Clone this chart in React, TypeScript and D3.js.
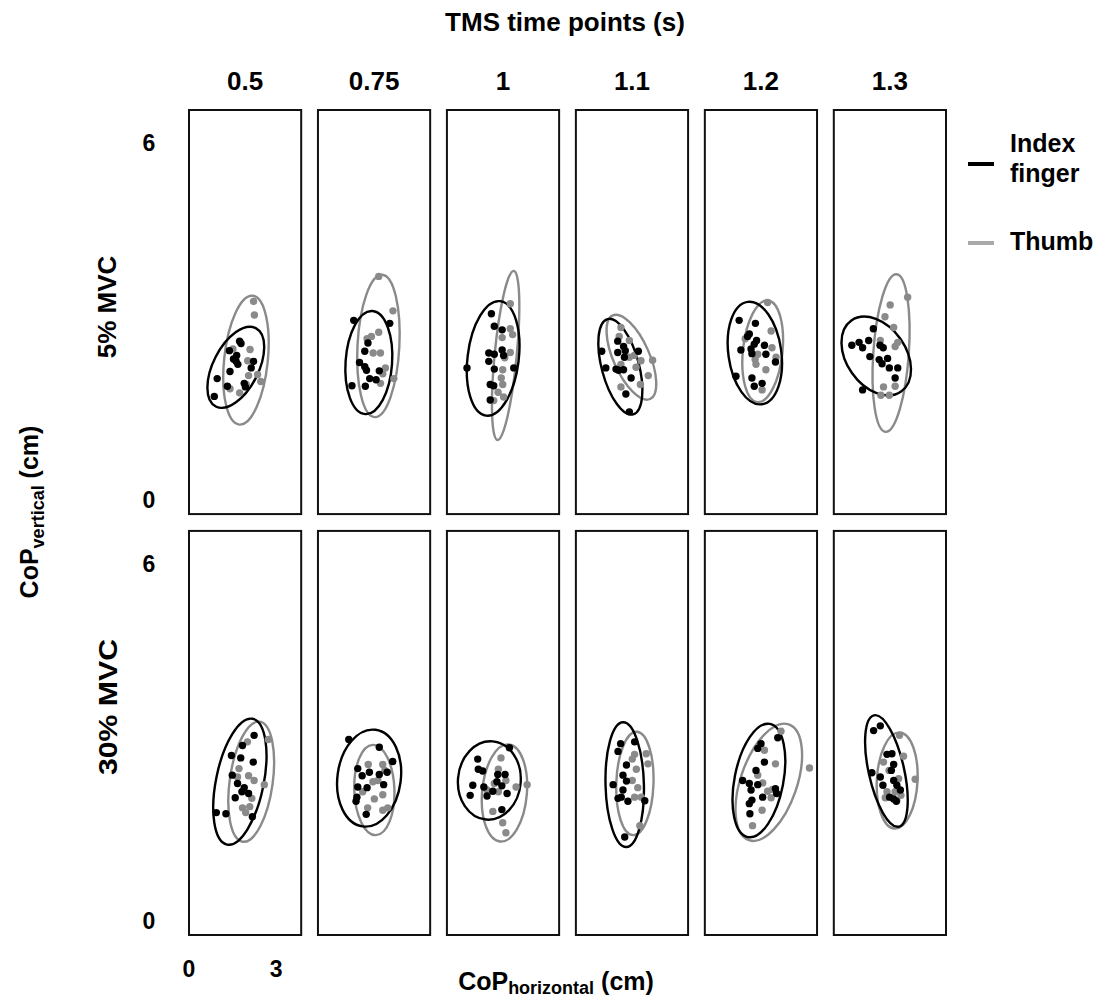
import React from "react";
import * as d3 from "d3";

type Pt = [number, number];
// [cx, cy, rx (x-units), ry (y-units), tilt deg]
type Ell = [number, number, number, number, number];

const timePoints = ["0.5", "0.75", "1", "1.1", "1.2", "1.3"];
const forceLevels = ["5% MVC", "30% MVC"];
const xTicks = [0, 3];
const yTicks = [0, 6];

// ---- 5% MVC : index finger (black) ----
const index5: Pt[][] = [
  [[0.87,1.74],[0.97,2.04],[1.32,1.91],[1.39,2.51],[1.41,2.16],[1.53,2.37],[1.62,2.33],[1.64,2.43],[1.68,2.28],[1.74,2.67],[1.79,2.63],[1.90,1.96],[1.94,1.90],[2.14,2.22],[2.22,2.33]],
  [[1.23,3.02],[2.47,2.97],[1.72,2.64],[1.61,2.50],[1.43,2.31],[1.61,2.24],[1.67,2.18],[1.78,2.04],[2.00,2.02],[2.11,2.17],[1.17,1.92],[1.63,1.91]],
  [[1.53,3.13],[1.63,2.92],[1.90,2.86],[1.44,2.47],[1.63,2.45],[1.90,2.52],[1.95,2.43],[1.44,2.33],[1.63,2.20],[0.69,2.22],[2.30,2.22],[1.49,1.94],[1.61,1.92],[1.49,1.68]],
  [[0.89,2.50],[1.44,2.67],[1.64,2.58],[1.70,2.51],[1.44,2.48],[1.67,2.40],[2.15,2.50],[1.03,2.22],[1.38,2.20],[1.47,2.18],[1.64,2.19],[1.90,2.05],[1.72,1.78],[1.84,1.48]],
  [[1.18,3.02],[1.74,2.97],[1.53,2.79],[1.47,2.75],[1.78,2.68],[1.70,2.62],[1.24,2.52],[1.59,2.54],[2.05,2.60],[1.62,2.46],[2.10,2.45],[2.43,2.32],[1.07,2.08],[1.62,2.05],[1.97,1.96],[1.70,1.91]],
  [[0.62,2.60],[0.87,2.65],[0.99,2.56],[1.20,2.68],[1.36,2.88],[1.24,2.41],[1.59,2.60],[1.70,2.56],[1.56,2.36],[1.66,2.29],[1.85,2.38],[1.91,2.22],[2.20,2.22],[2.11,2.05],[0.99,1.85]],
];

// ---- 5% MVC : thumb (gray) ----
const thumb5: Pt[][] = [
  [[2.22,3.34],[2.25,3.11],[2.10,2.53],[2.02,2.34],[2.05,2.09],[2.36,2.11],[2.47,1.99],[1.74,1.80],[1.51,2.54],[1.97,1.94],[1.41,1.87]],
  [[2.09,3.76],[2.58,3.18],[1.84,2.75],[2.09,2.82],[1.90,2.47],[2.15,2.47],[2.32,2.22],[2.23,2.12],[2.61,2.04],[2.15,1.96],[1.69,2.71]],
  [[2.18,3.30],[2.18,2.88],[2.26,2.78],[1.90,2.73],[2.18,2.48],[1.99,2.39],[1.92,2.19],[1.87,2.05],[1.92,1.94],[1.76,1.81],[1.95,1.73],[1.61,1.67]],
  [[1.55,2.90],[1.49,2.75],[1.84,2.68],[2.01,2.43],[2.07,2.23],[2.24,2.34],[2.64,2.35],[2.49,2.09],[2.22,1.94],[1.55,1.90],[1.55,2.28],[1.84,2.40]],
  [[2.16,3.32],[2.28,2.84],[1.39,2.71],[2.31,2.56],[1.82,2.45],[1.76,2.28],[2.10,2.19],[1.97,1.85],[2.45,2.40],[1.73,2.36]],
  [[1.94,3.28],[2.54,3.41],[1.76,3.08],[2.06,2.90],[1.60,2.68],[2.11,2.58],[2.20,2.65],[1.71,1.90],[2.11,1.91],[1.91,1.76],[1.62,1.76]],
];

// ---- 30% MVC : index finger (black) ----
const index30: Pt[][] = [
  [[2.24,3.12],[1.84,2.95],[1.46,2.78],[1.78,2.74],[2.21,2.67],[1.49,2.45],[1.67,2.31],[1.90,2.24],[1.82,2.17],[2.05,2.14],[1.59,2.07],[0.94,1.82],[1.27,1.80],[2.18,1.75]],
  [[1.06,3.05],[2.11,2.92],[2.57,2.68],[1.37,2.56],[1.77,2.50],[1.52,2.44],[2.11,2.46],[2.38,2.50],[1.37,2.25],[1.69,2.24],[2.26,2.29],[1.34,2.08],[1.31,2.01],[1.66,1.79]],
  [[2.15,2.91],[1.06,2.72],[1.08,2.55],[1.23,2.52],[1.75,2.46],[2.00,2.46],[0.89,2.28],[1.27,2.25],[1.72,2.34],[1.89,2.27],[1.58,2.18],[1.38,2.10],[0.80,2.11],[2.07,2.14],[1.89,1.87]],
  [[1.54,2.98],[1.45,2.85],[2.02,3.01],[1.74,2.62],[1.62,2.45],[1.74,2.35],[1.28,2.29],[1.62,2.20],[1.56,2.08],[1.45,2.06],[1.79,2.01],[2.37,2.02],[1.68,1.41]],
  [[2.51,3.08],[1.93,2.98],[1.82,2.90],[2.05,2.67],[1.76,2.53],[1.30,2.36],[1.53,2.31],[1.82,2.29],[1.59,2.20],[2.43,2.22],[2.47,2.14],[1.99,2.08],[1.62,2.03],[1.53,1.97],[1.55,1.80]],
  [[1.37,3.20],[1.60,3.28],[1.83,2.80],[2.00,2.81],[2.06,2.63],[1.98,2.53],[1.31,2.49],[1.60,2.42],[1.69,2.28],[2.06,2.36],[2.17,2.28],[2.29,2.20],[1.92,2.08],[2.06,2.05],[2.15,2.01]],
];

// ---- 30% MVC : thumb (gray) ----
const thumb30: Pt[][] = [
  [[2.73,3.05],[2.01,3.01],[1.72,2.56],[2.05,2.44],[2.24,2.36],[2.59,2.29],[2.16,2.06],[1.84,1.90],[2.09,1.92],[1.95,1.82],[1.67,2.42]],
  [[1.73,2.63],[2.23,2.63],[1.89,2.34],[2.06,2.36],[2.23,2.12],[1.94,2.05],[1.71,1.90],[2.23,1.86],[2.40,1.90],[1.54,2.17],[2.30,2.53]],
  [[1.86,2.74],[1.77,2.55],[1.63,2.31],[2.03,2.36],[2.38,2.25],[2.76,2.29],[1.58,1.84],[1.92,1.65],[2.03,1.48],[1.77,2.17],[1.38,2.20]],
  [[2.02,2.80],[2.42,2.81],[1.94,2.72],[2.08,2.55],[1.94,2.36],[2.48,2.64],[2.02,2.08],[2.25,2.08],[2.20,1.60],[2.13,2.24]],
  [[2.62,3.19],[2.05,2.87],[2.43,2.64],[1.82,2.45],[1.99,2.32],[2.16,2.18],[2.33,2.21],[2.28,2.07],[1.97,1.86],[1.64,1.60],[3.60,2.57]],
  [[2.26,3.12],[2.40,2.77],[1.71,2.67],[2.23,2.39],[2.80,2.38],[1.83,2.17],[2.11,2.17],[2.31,2.11],[1.77,2.07],[2.17,2.02],[1.90,2.53]],
];

// ---- confidence ellipses ----
const indexEll5: Ell[] = [
  [1.61,2.23,0.78,0.74,27],[1.75,2.31,0.80,0.87,4],[1.59,2.38,0.88,0.97,7],
  [1.53,2.24,0.64,0.83,-15],[1.72,2.47,0.91,0.87,-8],[1.46,2.42,1.02,0.73,-35],
];
const thumbEll5: Ell[] = [
  [1.96,2.35,0.75,1.09,6],[2.08,2.59,0.72,1.20,3],[2.02,2.43,0.38,1.43,5.5],
  [1.91,2.40,0.62,0.77,-24],[1.99,2.50,0.68,0.86,6],[1.97,2.47,0.61,1.33,4],
];
const indexEll30: Ell[] = [
  [1.75,2.34,0.82,1.08,11.5],[1.76,2.40,1.09,0.82,7.5],[1.46,2.36,1.08,0.66,5],
  [1.68,2.29,0.66,1.05,-1.5],[1.86,2.36,0.84,0.97,11],[1.81,2.52,0.61,0.96,-12.6],
];
const thumbEll30: Ell[] = [
  [2.14,2.34,0.74,1.02,8],[1.94,2.20,0.69,0.76,-2],[1.98,2.15,0.77,0.82,5],
  [2.03,2.31,0.64,0.87,2],[2.20,2.33,0.97,1.03,19],[2.18,2.36,0.70,0.81,3],
];

const W = 1109;
const H = 1001;
const X_DOMAIN: [number, number] = [0, 3.86];
const Y_DOMAIN: [number, number] = [-0.24, 6.56];
const BLACK = "#000000";
const GRAY = "#8a8a8a";
const LEGEND_GRAY = "#a9a9a9";
const FONT = "'Liberation Sans', Arial, Helvetica, sans-serif";

const colBand = d3.scaleBand<string>().domain(timePoints).range([189, 946]).paddingInner(0.13);
const rowBand = d3.scaleBand<string>().domain(forceLevels).range([110, 935]).paddingInner(0.04);

function EllipseMark({ e, x, y, color }: { e: Ell; x: d3.ScaleLinear<number, number>; y: d3.ScaleLinear<number, number>; color: string }) {
  const [cx, cy, rx, ry, tilt] = e;
  const kx = x(1) - x(0);
  const ky = y(0) - y(1);
  const px = x(cx);
  const py = y(cy);
  return (
    <ellipse cx={px} cy={py} rx={rx * kx} ry={ry * ky} fill="none" stroke={color} strokeWidth={2.4}
      transform={`rotate(${tilt} ${px} ${py})`} />
  );
}

export default function App() {
  const rows = [
    { level: forceLevels[0], index: index5, thumb: thumb5, indexEll: indexEll5, thumbEll: thumbEll5 },
    { level: forceLevels[1], index: index30, thumb: thumb30, indexEll: indexEll30, thumbEll: thumbEll30 },
  ];
  const bw = colBand.bandwidth();
  const bh = rowBand.bandwidth();
  const firstX = d3.scaleLinear().domain(X_DOMAIN).range([colBand(timePoints[0])!, colBand(timePoints[0])! + bw]);

  return (
    <svg width={W} height={H} style={{ position: "absolute", left: 0, top: 0, background: "#fff" }}
      fontFamily={FONT} fontWeight="bold">
      <rect x={0} y={0} width={W} height={H} fill="#fff" />
      {/* title */}
      <text x={565} y={31} fontSize={26} textAnchor="middle">TMS time points (s)</text>
      {timePoints.map((t) => (
        <text key={t} x={colBand(t)! + bw / 2} y={90} fontSize={26} textAnchor="middle">{t}</text>
      ))}

      {rows.map((row) => {
        const top = rowBand(row.level)!;
        const y = d3.scaleLinear().domain(Y_DOMAIN).range([top + bh, top]);
        return (
          <g key={row.level}>
            {yTicks.map((v) => (
              <text key={v} x={149} y={y(v)} fontSize={23} textAnchor="middle" dominantBaseline="central">{v}</text>
            ))}
            {timePoints.map((t, i) => {
              const left = colBand(t)!;
              const x = d3.scaleLinear().domain(X_DOMAIN).range([left, left + bw]);
              return (
                <g key={t}>
                  <rect x={left} y={top} width={bw} height={bh} fill="none" stroke="#111" strokeWidth={2} />
                  <EllipseMark e={row.thumbEll[i]} x={x} y={y} color={GRAY} />
                  <EllipseMark e={row.indexEll[i]} x={x} y={y} color={BLACK} />
                  {row.thumb[i].map((p, k) => (
                    <circle key={"t" + k} cx={x(p[0])} cy={y(p[1])} r={3.7} fill={GRAY} />
                  ))}
                  {row.index[i].map((p, k) => (
                    <circle key={"i" + k} cx={x(p[0])} cy={y(p[1])} r={3.7} fill={BLACK} />
                  ))}
                </g>
              );
            })}
          </g>
        );
      })}

      {/* x ticks under first panel */}
      {xTicks.map((v) => (
        <text key={v} x={firstX(v)} y={977} fontSize={23} textAnchor="middle">{v}</text>
      ))}

      {/* row labels */}
      <text transform="translate(116,307) rotate(-90)" fontSize={26} textAnchor="middle">5% MVC</text>
      <text transform="translate(117,707) rotate(-90)" fontSize={26} textAnchor="middle"
        textLength={136} lengthAdjust="spacingAndGlyphs">30% MVC</text>

      {/* axis titles */}
      <text transform="translate(38,512) rotate(-90)" fontSize={25} textAnchor="middle">
        CoP<tspan fontSize={18} dy={6}>vertical</tspan><tspan dy={-6}> (cm)</tspan>
      </text>
      <text x={556} y={990} fontSize={25} textAnchor="middle">
        CoP<tspan fontSize={18} dy={4}>horizontal</tspan><tspan dy={-4}> (cm)</tspan>
      </text>

      {/* legend */}
      <line x1={968} x2={994} y1={164} y2={164} stroke={BLACK} strokeWidth={4} />
      <text x={1010} y={152} fontSize={25}>Index</text>
      <text x={1010} y={182} fontSize={25}>finger</text>
      <line x1={968} x2={994} y1={243} y2={243} stroke={LEGEND_GRAY} strokeWidth={4} />
      <text x={1010} y={250} fontSize={25}>Thumb</text>
    </svg>
  );
}
